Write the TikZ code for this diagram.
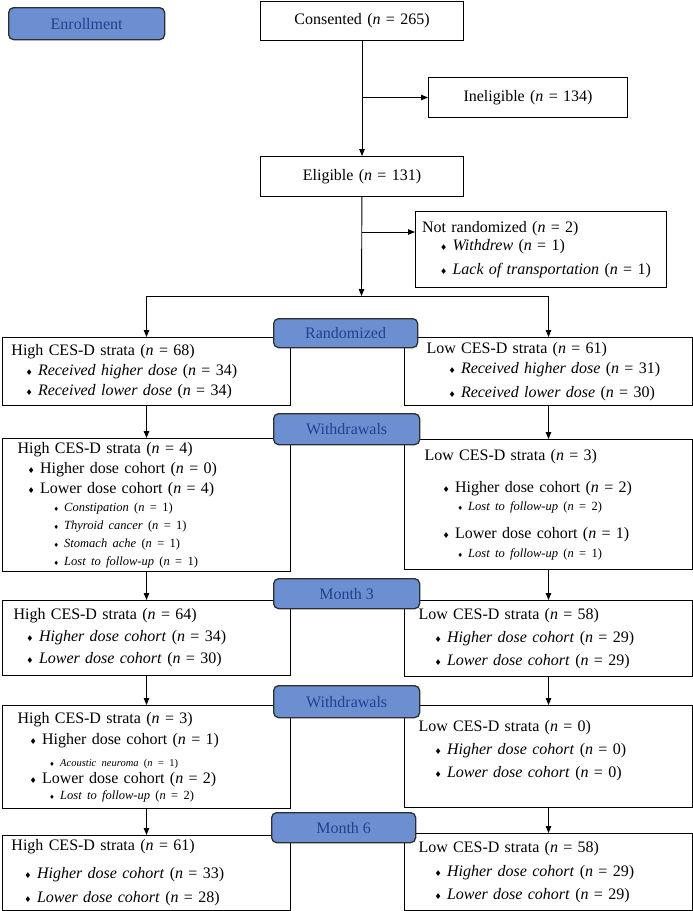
\documentclass[tikz,border=0pt]{standalone}
\usepackage{fontspec}
\setmainfont{Liberation Serif}
\newfontfamily\symfont{DejaVu Sans}
\usetikzlibrary{arrows.meta}

\definecolor{labelfill}{HTML}{6B8FD0}
\definecolor{labeltext}{HTML}{23408E}
\definecolor{labeldraw}{HTML}{2E2E2E}

\newcommand{\cnt}[1]{(\textit{n} = #1)}
\newcommand{\dm}{{\symfont\fontsize{8}{8}\selectfont ♦}}
\newcommand{\sdm}{{\symfont\fontsize{6}{6}\selectfont ♦}}
\newcommand{\sm}{\fontsize{12.5}{14}\selectfont}

\tikzset{
  box/.style={draw, line width=1pt, anchor=north west, inner sep=0pt, align=left, font=\fontsize{16}{20}\selectfont},
  stage/.style={draw=labeldraw, line width=1.3pt, fill=labelfill, rounded corners=5pt, anchor=north west, inner sep=0pt, text=labeltext, font=\fontsize{16}{20}\selectfont},
}

\begin{document}
\begin{tikzpicture}[x=1pt, y=-1pt, >={Triangle[length=7pt, width=5.5pt]}, line width=0.9pt]
    \useasboundingbox (0,0) rectangle (693,911);

    % Enrollment
    \node[box, minimum width=203, minimum height=39, text width=180, align=center] (cons) at (260,1) {Consented \cnt{265}};
    \node[box, minimum width=199, minimum height=40, text width=180, align=center] (inel) at (428,77) {Ineligible \cnt{134}};
    \node[box, minimum width=203, minimum height=40, text width=180, align=center] (elig) at (260,156) {Eligible \cnt{131}};
    \node[box, minimum width=251, minimum height=76, text width=238] (notr) at (415,211) {Not randomized \cnt{2}\\[-2pt]
        \hspace*{18pt}\dm\ \textit{Withdrew} \cnt{1}\\[4pt]
        \hspace*{18pt}\dm\ \textit{Lack of transportation} \cnt{1}};

    % Randomized
    \node[box, minimum width=288, minimum height=68, text width=270] (hi68) at (2,337) {High CES-D strata \cnt{68}\\
        \hspace*{14pt}\dm\ \textit{Received higher dose} \cnt{34}\\
        \hspace*{14pt}\dm\ \textit{Received lower dose} \cnt{34}};
    \node[box, minimum width=288, minimum height=68, text width=244] (lo61) at (404,337) {Low CES-D strata \cnt{61}\\
        \hspace*{22pt}\dm\ \textit{Received higher dose} \cnt{31}\\[4pt]
        \hspace*{22pt}\dm\ \textit{Received lower dose} \cnt{30}};

    % Withdrawals before month 3
    \node[box, minimum width=288, minimum height=133, text width=258] (hi4) at (2,438) {High CES-D strata \cnt{4}\\
        \hspace*{10pt}\dm\ Higher dose cohort \cnt{0}\\
        \hspace*{10pt}\dm\ Lower dose cohort \cnt{4}\\[-2pt]
        \hspace*{36pt}\sdm\ {\sm\textit{Constipation} \cnt{1}}\\[-2pt]
        \hspace*{36pt}\sdm\ {\sm\textit{Thyroid cancer} \cnt{1}}\\[-2pt]
        \hspace*{36pt}\sdm\ {\sm\textit{Stomach ache} \cnt{1}}\\[-2pt]
        \hspace*{36pt}\sdm\ {\sm\textit{Lost to follow-up} \cnt{1}}};
    \node[box, minimum width=288, minimum height=130, text width=248] (lo3) at (404,439) {Low CES-D strata \cnt{3}\\[12pt]
        \hspace*{18pt}\dm\ Higher dose cohort \cnt{2}\\[-2pt]
        \hspace*{33pt}\sdm\ {\sm\textit{Lost to follow-up} \cnt{2}}\\[8pt]
        \hspace*{18pt}\dm\ Lower dose cohort \cnt{1}\\[-1pt]
        \hspace*{33pt}\sdm\ {\sm\textit{Lost to follow-up} \cnt{1}}};

    % Month 3
    \node[box, minimum width=288, minimum height=75, text width=266] (hi64) at (2,600) {High CES-D strata \cnt{64}\\[2pt]
        \hspace*{13pt}\dm\ \textit{Higher dose cohort} \cnt{34}\\[2pt]
        \hspace*{13pt}\dm\ \textit{Lower dose cohort} \cnt{30}};
    \node[box, minimum width=288, minimum height=76, text width=260] (lo58a) at (404,600) {Low CES-D strata \cnt{58}\\[3pt]
        \hspace*{16pt}\dm\ \textit{Higher dose cohort} \cnt{29}\\[3pt]
        \hspace*{16pt}\dm\ \textit{Lower dose cohort} \cnt{29}};

    % Withdrawals before month 6
    \node[box, minimum width=288, minimum height=103, text width=258] (hi3) at (2,705) {High CES-D strata \cnt{3}\\[1pt]
        \hspace*{12pt}\dm\ Higher dose cohort \cnt{1}\\[2pt]
        \hspace*{32pt}\sdm\ {\fontsize{10.5}{12}\selectfont\textit{Acoustic neuroma} \cnt{1}}\\[-3pt]
        \hspace*{12pt}\dm\ Lower dose cohort \cnt{2}\\[-4pt]
        \hspace*{32pt}\sdm\ {\sm\textit{Lost to follow-up} \cnt{2}}};
    \node[box, minimum width=288, minimum height=102, text width=260] (lo0) at (404,705) {Low CES-D strata \cnt{0}\\[3pt]
        \hspace*{16pt}\dm\ \textit{Higher dose cohort} \cnt{0}\\[3pt]
        \hspace*{16pt}\dm\ \textit{Lower dose cohort} \cnt{0}\\[-4pt]
        \mbox{}};

    % Month 6
    \node[box, minimum width=288, minimum height=75, text width=270] (hi61) at (2,835) {High CES-D strata \cnt{61}\\[8pt]
        \hspace*{13pt}\dm\ \textit{Higher dose cohort} \cnt{33}\\[4pt]
        \hspace*{13pt}\dm\ \textit{Lower dose cohort} \cnt{28}};
    \node[box, minimum width=288, minimum height=77, text width=260] (lo58b) at (404,833) {Low CES-D strata \cnt{58}\\[4pt]
        \hspace*{16pt}\dm\ \textit{Higher dose cohort} \cnt{29}\\[3pt]
        \hspace*{16pt}\dm\ \textit{Lower dose cohort} \cnt{29}};

    % Arrows
    \coordinate (nr) at (361.5,232);
    \coordinate (split) at (361.5,296);
    \draw[->] (cons) -- (elig);
    \draw[->] (cons.south |- inel.west) -- (inel.west);
    \draw[->] (elig) -- (split);
    \draw[->] (nr) -- (nr -| notr.west);
    \draw[->] (split) -| (hi68.north);
    \draw[->] (split) -| (lo61.north);
    \draw[->] (hi68) -- (hi4);
    \draw[->] (lo61) -- (lo3);
    \draw[->] (hi4) -- (hi64);
    \draw[->] (lo3) -- (lo58a);
    \draw[->] (hi64) -- (hi3);
    \draw[->] (lo58a) -- (lo0);
    \draw[->] (hi3) -- (hi61);
    \draw[->] (lo0) -- (lo58b);

    % Stage labels
    \node[stage, minimum width=156, minimum height=32] (enrol) at (8,7) {Enrollment};
    \node[stage, minimum width=144, minimum height=29] (rand) at (273,318) {Randomized};
    \node[stage, minimum width=146, minimum height=31] (wd1) at (273,413) {Withdrawals};
    \node[stage, minimum width=146, minimum height=30] (m3) at (273,578) {Month 3};
    \node[stage, minimum width=146, minimum height=32] (wd2) at (273,685) {Withdrawals};
    \node[stage, minimum width=144, minimum height=30] (m6) at (271,812) {Month 6};
\end{tikzpicture}
\end{document}
